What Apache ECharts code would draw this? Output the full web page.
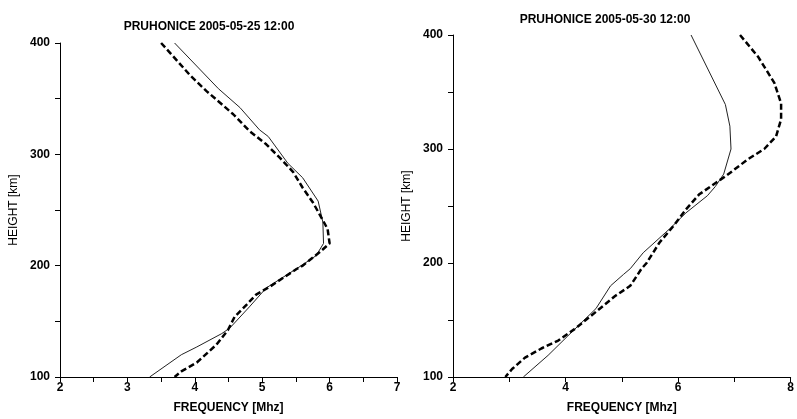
<!DOCTYPE html>
<html>
<head>
<meta charset="utf-8">
<script src="https://cdn.jsdelivr.net/npm/echarts@6/dist/echarts.min.js"></script>
<style>
  html, body { margin: 0; padding: 0; background: #fff; }
  #chart { width: 797px; height: 419px; }
</style>
</head>
<body>
<div id="chart"></div>
<script>
  // titles
  var titles = ['PRUHONICE 2005-05-25 12:00', 'PRUHONICE 2005-05-30 12:00'];

  // [frequency MHz, height km]
  var leftSolid = [[3.70,400],[4.35,359],[4.67,342],[4.96,322],[5.09,316],[5.38,292],[5.60,279],[5.83,258],
    [5.90,239],[5.91,220],[5.80,209],[5.58,200],[5.06,180],[4.81,163],[4.52,144],[4.40,139],
    [4.03,127],[3.80,120],[3.33,100]];
  var leftDashed = [[3.50,400],[3.68,388],[3.93,371],[4.17,357],[4.40,345],[4.57,336],[4.81,321],[5.06,309],
    [5.26,297],[5.46,284],[5.60,270],[5.75,257],[5.88,243],[5.97,233],[6.00,220],[5.85,212],
    [5.60,200],[5.51,197],[5.11,181],[4.91,174],[4.77,165],[4.59,154],[4.49,142],[4.32,129],
    [4.03,113],[3.80,105],[3.70,100]];
  var rightSolid = [[6.23,400],[6.84,339],[6.92,320],[6.94,300],[6.81,278],[6.66,267],[6.52,259],[6.14,244],
    [5.85,230],[5.38,209],[5.15,195],[5.03,190],[4.80,180],[4.54,160],[4.04,136],[3.69,119],[3.25,100]];
  var rightDashed = [[7.10,400],[7.42,381],[7.71,358],[7.83,340],[7.83,326],[7.74,311],[7.53,300],[7.24,291],
    [6.84,276],[6.66,270],[6.37,260],[6.14,247],[5.91,232],[5.67,218],[5.44,200],[5.35,195],
    [5.15,180],[4.88,171],[4.56,158],[4.16,142],[3.87,132],[3.57,125],[3.28,117],[3.05,107],[2.93,100]];

  var font = 'Liberation Sans, Arial, sans-serif';

  function xAx(idx, max, interval, step) {
    return {
      type: 'value', gridIndex: idx, min: 2, max: max, interval: interval,
      name: 'FREQUENCY [Mhz]', nameLocation: 'middle', nameGap: 25,
      nameTextStyle: { fontFamily: font, fontSize: 12, fontWeight: 'bold', color: '#000' },
      axisLine: { onZero: false, lineStyle: { color: '#000', width: 1 } },
      axisTick: { length: 5, lineStyle: { color: '#000' } },
      axisLabel: {
        margin: 5, fontFamily: font, fontSize: 12, fontWeight: 'bold', color: '#000',
        alignMaxLabel: 'center',
        formatter: function (v) { return (Math.abs(v % step) < 1e-6) ? String(v) : ''; }
      },
      splitLine: { show: false }
    };
  }
  function yAx(idx, gap) {
    return {
      type: 'value', gridIndex: idx, min: 100, max: 400, interval: 50,
      name: 'HEIGHT [km]', nameLocation: 'middle', nameGap: gap,
      nameTextStyle: { fontFamily: font, fontSize: 12, color: '#000' },
      axisLine: { show: true, onZero: false, lineStyle: { color: '#000', width: 1 } },
      axisTick: { show: true, length: 5, lineStyle: { color: '#000' } },
      axisLabel: {
        margin: 10, fontFamily: font, fontSize: 12, fontWeight: 'bold', color: '#000',
        formatter: function (v) { return v % 100 === 0 ? String(v) : ''; }
      },
      splitLine: { show: false }
    };
  }
  function solid(data, idx) {
    return { type: 'line', xAxisIndex: idx, yAxisIndex: idx, data: data, showSymbol: false,
      lineStyle: { color: '#222', width: 1 }, animation: false };
  }
  function dashed(data, idx) {
    return { type: 'line', xAxisIndex: idx, yAxisIndex: idx, data: data, showSymbol: false,
      lineStyle: { color: '#000', width: 2.5, type: [6, 3] }, animation: false };
  }

  var chart = echarts.init(document.getElementById('chart'));
  chart.setOption({
    backgroundColor: '#fff',
    title: [
      { text: titles[0], left: 204, top: 16, textAlign: 'center',
        textStyle: { fontFamily: font, fontSize: 12, fontWeight: 'bold', color: '#000' } },
      { text: titles[1], left: 600, top: 9, textAlign: 'center',
        textStyle: { fontFamily: font, fontSize: 12, fontWeight: 'bold', color: '#000' } }
    ],
    grid: [
      { left: 60, top: 43, width: 337, height: 336 },
      { left: 453, top: 35, width: 344, height: 343 }
    ],
    xAxis: [xAx(0, 7, 0.5, 1), xAx(1, 8, 1, 2)],
    yAxis: [yAx(0, 40), yAx(1, 40)],
    series: [solid(leftSolid, 0), dashed(leftDashed, 0), solid(rightSolid, 1), dashed(rightDashed, 1)]
  });
</script>
</body>
</html>
